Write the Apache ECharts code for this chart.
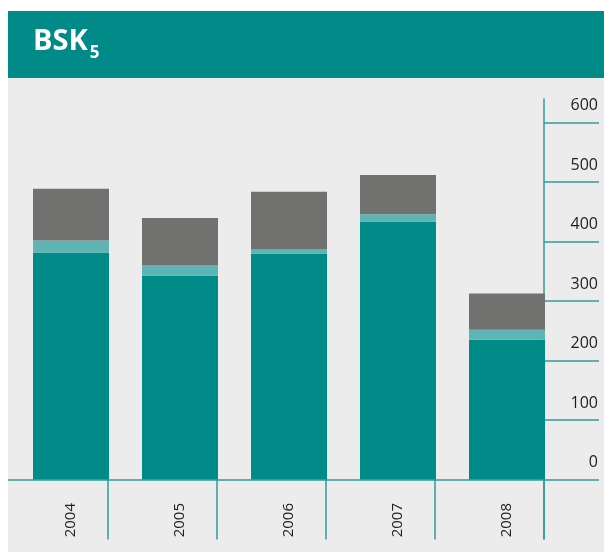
<!DOCTYPE html>
<html>
<head>
<meta charset="utf-8">
<script src="https://cdn.jsdelivr.net/npm/echarts@6/dist/echarts.min.js"></script>
<style>
    html, body { margin: 0; padding: 0; background: #ffffff; }
    #chart { position: absolute; left: 8px; top: 11px; width: 596px; height: 541px; }
</style>
</head>
<body>
<div id="chart"></div>
<script>
// values
var years = ['2004', '2005', '2006', '2007', '2008'];
var part1 = [382, 343, 380, 434, 235];   // dark teal
var part2 = [20, 17, 7, 12, 17];         // light teal
var part3 = [87, 80, 97, 66, 61];        // grey
var tickValues = [0, 100, 200, 300, 400, 500, 600];

var teal = '#008a88';
var axisTeal = '#2f9c9b';

var chart = echarts.init(document.getElementById('chart'));

var yCommon = {
    type: 'value',
    min: -100,
    max: 640
};

var option = {
    backgroundColor: '#ececec',
    animation: false,
    graphic: [
        {
            type: 'rect',
            left: 0,
            top: 0,
            z: -1,
            shape: { width: 596, height: 67 },
            style: { fill: teal }
        }
    ],
    title: {
        text: '{a|BSK}{b|5}',
        left: 20,
        top: 12,
        textStyle: {
            rich: {
                a: { fontFamily: 'Open Sans', fontWeight: 'bold', fontSize: 29, color: '#ffffff', lineHeight: 34, padding: [0, 0, 6, 0] },
                b: { fontFamily: 'Open Sans', fontWeight: 'bold', fontSize: 17, color: '#ffffff', lineHeight: 17, verticalAlign: 'bottom', padding: [0, 0, 0, 2] }
            }
        }
    },
    grid: [
        // bars
        { left: 8.5, width: 545, top: 88, bottom: 13, outerBoundsMode: 'none', containLabel: false },
        // right axis + separators
        { left: -9, width: 545, top: 88, bottom: 13, outerBoundsMode: 'none', containLabel: false }
    ],
    xAxis: [
        {
            type: 'category',
            gridIndex: 0,
            data: years,
            offset: -60,
            axisLine: { show: false, onZero: false },
            axisTick: { show: false },
            axisLabel: {
                rotate: 90,
                margin: 24,
                fontFamily: 'Open Sans',
                fontSize: 15,
                color: '#222222'
            }
        },
        {
            type: 'category',
            gridIndex: 1,
            data: years,
            axisLine: { show: true, lineStyle: { color: axisTeal, width: 1.5 } },
            axisTick: { show: true, length: 60, lineStyle: { color: axisTeal, width: 1.5 } },
            axisLabel: { show: false }
        }
    ],
    yAxis: [
        Object.assign({}, yCommon, {
            gridIndex: 0,
            show: false
        }),
        Object.assign({}, yCommon, {
            gridIndex: 1,
            position: 'right',
            splitLine: { show: false },
            axisLine: { show: true, lineStyle: { color: axisTeal, width: 1.5 } },
            axisTick: {
                show: true,
                length: 55,
                customValues: tickValues,
                lineStyle: { color: axisTeal, width: 1.5 }
            },
            axisLabel: {
                customValues: tickValues,
                margin: 54,
                align: 'right',
                verticalAlign: 'bottom',
                padding: [0, 0, 9, 0],
                fontFamily: 'Open Sans',
                fontSize: 16,
                color: '#1e1e1e'
            }
        })
    ],
    series: [
        { name: 'a', type: 'bar', stack: 'total', xAxisIndex: 0, yAxisIndex: 0, barWidth: 76, data: part1, itemStyle: { color: teal } },
        { name: 'b', type: 'bar', stack: 'total', xAxisIndex: 0, yAxisIndex: 0, barWidth: 76, data: part2, itemStyle: { color: '#5fb5b5' } },
        { name: 'c', type: 'bar', stack: 'total', xAxisIndex: 0, yAxisIndex: 0, barWidth: 76, data: part3, itemStyle: { color: '#71716f' } }
    ]
};

chart.setOption(option);
</script>
</body>
</html>
